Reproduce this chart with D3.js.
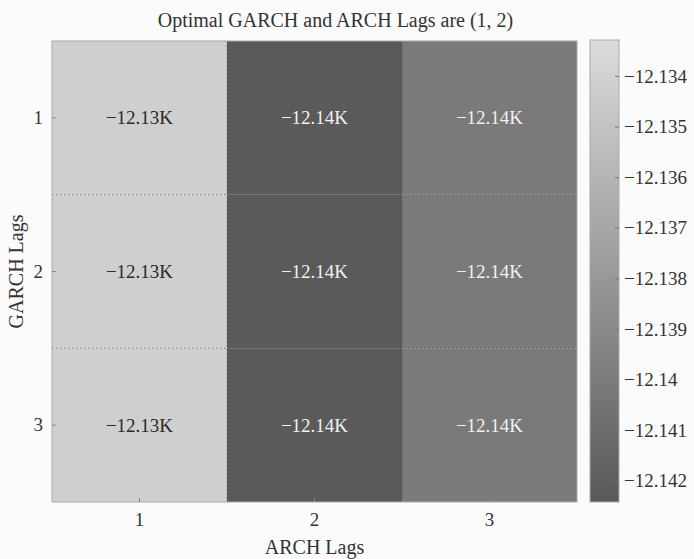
<!DOCTYPE html>
<html>
<head>
<meta charset="utf-8">
<script src="https://cdn.jsdelivr.net/npm/d3@7/dist/d3.min.js"></script>
<style>
  html, body { margin: 0; padding: 0; background: #fbfbfb; }
  svg { display: block; font-family: "Liberation Serif", "Times New Roman", serif; }
</style>
</head>
<body>
<svg id="chart" width="694" height="559"></svg>
<script>
// Log-likelihood (in thousands) for each GARCH lag (rows) x ARCH lag (columns)
const garchLags = [1, 2, 3];
const archLags = [1, 2, 3];
const row1 = [-12.13419, -12.14230, -12.14006];
const row2 = [-12.13419, -12.14230, -12.14006];
const row3 = [-12.13419, -12.14230, -12.14006];
const colorTicks = [-12.134, -12.135, -12.136, -12.137, -12.138, -12.139, -12.14, -12.141, -12.142];
const colorDomain = [-12.14242, -12.13329];

const rows = [row1, row2, row3];
const cells = [];
garchLags.forEach((g, i) => archLags.forEach((a, j) => cells.push({ g, a, v: rows[i][j] })));

const svg = d3.select("#chart");
const plot = { left: 52, right: 577, top: 41, bottom: 502 };
const bar = { left: 590, right: 619, top: 40, bottom: 502 };
const textColor = "#333";
const serif = "Liberation Serif, Times New Roman, serif";

const x = d3.scaleBand().domain(archLags).range([plot.left, plot.right]);
const y = d3.scaleBand().domain(garchLags).range([plot.top, plot.bottom]);
const color = d3.scaleLinear().domain(colorDomain).range(["#585858", "#dcdcdc"]).clamp(true);

// Title, centred over heatmap and colorbar together
svg.append("text")
  .attr("x", (plot.left + bar.right) / 2).attr("y", 27)
  .attr("text-anchor", "middle").attr("font-size", 20).attr("fill", textColor)
  .text("Optimal GARCH and ARCH Lags are (1, 2)");

// Cells
svg.append("g").selectAll("rect").data(cells).join("rect")
  .attr("x", d => x(d.a)).attr("y", d => y(d.g))
  .attr("width", x.bandwidth()).attr("height", y.bandwidth())
  .attr("fill", d => color(d.v));

// Dotted cell borders
const grid = svg.append("g").attr("stroke", "#555").attr("stroke-width", 1).attr("stroke-dasharray", "1.5,2.5").attr("opacity", 0.7);
archLags.slice(1).forEach(a => grid.append("line")
  .attr("x1", x(a)).attr("x2", x(a)).attr("y1", plot.top).attr("y2", plot.bottom));
garchLags.slice(1).forEach(g => grid.append("line")
  .attr("x1", plot.left).attr("x2", plot.right).attr("y1", y(g)).attr("y2", y(g)));

// Outer border
svg.append("rect")
  .attr("x", plot.left).attr("y", plot.top)
  .attr("width", plot.right - plot.left).attr("height", plot.bottom - plot.top)
  .attr("fill", "none").attr("stroke", "#aaa").attr("stroke-width", 1);

// Cell value labels
svg.append("g").selectAll("text").data(cells).join("text")
  .attr("x", d => x(d.a) + x.bandwidth() / 2)
  .attr("y", d => y(d.g) + y.bandwidth() / 2)
  .attr("dy", "0.35em").attr("text-anchor", "middle").attr("font-size", 19)
  .attr("fill", d => d3.hsl(color(d.v)).l < 0.6 ? "#f0f0f0" : "#2a2a2a")
  .text(d => d.v.toFixed(2).replace("-", "\u2212") + "K");

// Axes
const xAxis = svg.append("g").attr("transform", `translate(0,${plot.bottom})`)
  .call(d3.axisBottom(x).tickSize(0).tickPadding(11));
const yAxis = svg.append("g").attr("transform", `translate(${plot.left},0)`)
  .call(d3.axisLeft(y).tickSize(0).tickPadding(9));
[xAxis, yAxis].forEach(ax => {
  ax.select(".domain").remove();
  ax.selectAll("text").attr("font-size", 19).attr("fill", textColor).attr("font-family", serif);
});
// Small inward tick marks
svg.append("g").selectAll("line").data(garchLags).join("line")
  .attr("x1", plot.left).attr("x2", plot.left + 4)
  .attr("y1", d => y(d) + y.bandwidth() / 2).attr("y2", d => y(d) + y.bandwidth() / 2)
  .attr("stroke", "#888");
svg.append("g").selectAll("line").data(archLags).join("line")
  .attr("x1", d => x(d) + x.bandwidth() / 2).attr("x2", d => x(d) + x.bandwidth() / 2)
  .attr("y1", plot.bottom).attr("y2", plot.bottom - 4)
  .attr("stroke", "#888");

// Axis titles
svg.append("text")
  .attr("x", (plot.left + plot.right) / 2).attr("y", 554)
  .attr("text-anchor", "middle").attr("font-size", 20).attr("fill", textColor)
  .text("ARCH Lags");
svg.append("text")
  .attr("transform", `translate(23,${(plot.top + plot.bottom) / 2}) rotate(-90)`)
  .attr("text-anchor", "middle").attr("font-size", 20).attr("fill", textColor)
  .text("GARCH Lags");

// Colorbar
const cy = d3.scaleLinear().domain(colorDomain).range([bar.bottom, bar.top]);
const defs = svg.append("defs");
const grad = defs.append("linearGradient").attr("id", "cbar")
  .attr("x1", 0).attr("y1", 1).attr("x2", 0).attr("y2", 0);
grad.append("stop").attr("offset", 0).attr("stop-color", color(colorDomain[0]));
grad.append("stop").attr("offset", 1).attr("stop-color", color(colorDomain[1]));
svg.append("rect")
  .attr("x", bar.left).attr("y", bar.top)
  .attr("width", bar.right - bar.left).attr("height", bar.bottom - bar.top)
  .attr("fill", "url(#cbar)").attr("stroke", "#aaa").attr("stroke-width", 1);

const cAxis = svg.append("g").attr("transform", `translate(${bar.right},0)`)
  .call(d3.axisRight(cy).tickValues(colorTicks).tickSize(-4).tickPadding(5)
    .tickFormat(d => String(d).replace("-", "\u2212")));
cAxis.select(".domain").remove();
cAxis.selectAll("line").attr("stroke", "#777");
cAxis.selectAll("text").attr("font-size", 19).attr("fill", textColor).attr("font-family", serif);
</script>
</body>
</html>
